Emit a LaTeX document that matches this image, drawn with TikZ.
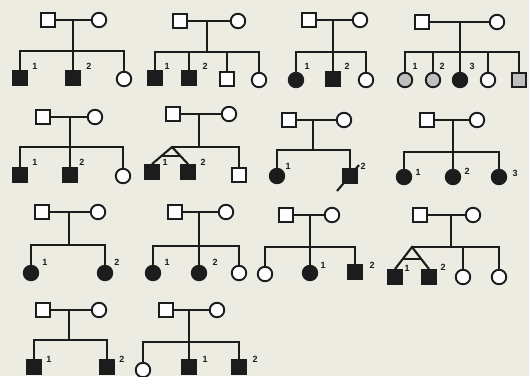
\documentclass[tikz,border=0pt]{standalone}
\usepackage{fontspec}
\setmainfont{Liberation Sans}
\usetikzlibrary{calc}
\definecolor{bgc}{RGB}{236,236,226}
\definecolor{ink}{RGB}{28,28,28}
\tikzset{
  lw/.style={line width=2.1pt, draw=ink},
  male/.style={draw=ink, line width=1.9pt, rectangle, minimum size=14pt, inner sep=0pt, fill=white!96!bgc},
  female/.style={draw=ink, line width=1.9pt, circle, minimum size=14.5pt, inner sep=0pt, fill=white!96!bgc},
  aff/.style={fill=ink},
  carr/.style={fill=gray!50},
  lab/.style={font=\bfseries\fontsize{9}{9}\selectfont, inner sep=0pt, text=ink}
}
\begin{document}
\begin{tikzpicture}[x=1pt,y=-1pt]
\useasboundingbox (0,0) rectangle (529,376);
\clip (0,0) rectangle (529,376);
\fill[bgc] (0,0) rectangle (529,376);

% ---------- Pedigree 1
\node[male] (f1) at (48,20) {};
\node[female] (m1) at (99,20) {};
\coordinate (j1) at (73,20); \coordinate (k1) at (73,51);
\node[male,aff] (c11) at (20,78) {};
\node[male,aff] (c12) at (73,78) {};
\node[female] (c13) at (124,79) {};
\draw[lw] (f1.east) -- (m1.west); \draw[lw] (j1) -- (k1);
\foreach \c in {c11,c12,c13} \draw[lw] (\c.north) |- (k1);
\node[lab] (l11) at (35,66) {1}; \node[lab] (l12) at (89,66) {2};

% ---------- Pedigree 2
\node[male] (f2) at (180,21) {};
\node[female] (m2) at (238,21) {};
\coordinate (j2) at (207,21); \coordinate (k2) at (207,52);
\node[male,aff] (c21) at (155,78) {};
\node[male,aff] (c22) at (189,78) {};
\node[male] (c23) at (227,79) {};
\node[female] (c24) at (259,80) {};
\draw[lw] (f2.east) -- (m2.west); \draw[lw] (j2) -- (k2);
\foreach \c in {c21,c22,c23,c24} \draw[lw] (\c.north) |- (k2);
\node[lab] (l21) at (167,66) {1}; \node[lab] (l22) at (205,66) {2};

% ---------- Pedigree 3
\node[male] (f3) at (309,20) {};
\node[female] (m3) at (360,20) {};
\coordinate (j3) at (333,20); \coordinate (k3) at (333,52);
\node[female,aff] (c31) at (296,80) {};
\node[male,aff] (c32) at (333,79) {};
\node[female] (c33) at (366,80) {};
\draw[lw] (f3.east) -- (m3.west); \draw[lw] (j3) -- (k3);
\foreach \c in {c31,c32,c33} \draw[lw] (\c.north) |- (k3);
\node[lab] (l31) at (307,66) {1}; \node[lab] (l32) at (347,66) {2};

% ---------- Pedigree 4
\node[male] (f4) at (422,22) {};
\node[female] (m4) at (497,22) {};
\coordinate (j4) at (460,22); \coordinate (k4) at (460,52);
\node[female,carr] (c41) at (405,80) {};
\node[female,carr] (c42) at (433,80) {};
\node[female,aff] (c43) at (460,80) {};
\node[female] (c44) at (488,80) {};
\node[male,carr] (c45) at (519,80) {};
\draw[lw] (f4.east) -- (m4.west); \draw[lw] (j4) -- (k4);
\foreach \c in {c41,c42,c43,c44,c45} \draw[lw] (\c.north) |- (k4);
\node[lab] (l41) at (415,66) {1}; \node[lab] (l42) at (442,66) {2}; \node[lab] (l43) at (472,66) {3};

% ---------- Pedigree 5
\node[male] (f5) at (43,117) {};
\node[female] (m5) at (95,117) {};
\coordinate (j5) at (70,117); \coordinate (k5) at (70,147);
\node[male,aff] (c51) at (20,175) {};
\node[male,aff] (c52) at (70,175) {};
\node[female] (c53) at (123,176) {};
\draw[lw] (f5.east) -- (m5.west); \draw[lw] (j5) -- (k5);
\foreach \c in {c51,c52,c53} \draw[lw] (\c.north) |- (k5);
\node[lab] (l51) at (35,162) {1}; \node[lab] (l52) at (82,162) {2};

% ---------- Pedigree 6 (twins)
\node[male] (f6) at (173,114) {};
\node[female] (m6) at (229,114) {};
\coordinate (j6) at (199,114); \coordinate (k6) at (199,147);
\coordinate (a6) at (172,147);
\node[male,aff] (c61) at (152,172) {};
\node[male,aff] (c62) at (188,172) {};
\node[male] (c63) at (239,175) {};
\draw[lw] (f6.east) -- (m6.west); \draw[lw] (j6) -- (k6);
\draw[lw] (a6) -- (k6); \draw[lw] (c63.north) |- (k6);
\draw[lw] (c61.north) -- (a6) -- (c62.north);
\draw[lw] ($(a6)!0.55!(c61.north)$) -- ($(a6)!0.55!(c62.north)$);
\node[lab] (l61) at (165,162) {1}; \node[lab] (l62) at (203,162) {2};

% ---------- Pedigree 7
\node[male] (f7) at (289,120) {};
\node[female] (m7) at (344,120) {};
\coordinate (j7) at (313,120); \coordinate (k7) at (313,150);
\node[female,aff] (c71) at (277,176) {};
\node[male,aff] (c72) at (350,176) {};
\draw[lw] (f7.east) -- (m7.west); \draw[lw] (j7) -- (k7);
\foreach \c in {c71,c72} \draw[lw] (\c.north) |- (k7);
\draw[lw] ($(c72.center)+(-13,15)$) -- ($(c72.center)+(9,-11)$);
\node[lab] (l71) at (288,166) {1}; \node[lab] (l72) at (363,166) {2};

% ---------- Pedigree 8
\node[male] (f8) at (427,120) {};
\node[female] (m8) at (477,120) {};
\coordinate (j8) at (453,120); \coordinate (k8) at (453,152);
\node[female,aff] (c81) at (404,177) {};
\node[female,aff] (c82) at (453,177) {};
\node[female,aff] (c83) at (499,177) {};
\draw[lw] (f8.east) -- (m8.west); \draw[lw] (j8) -- (k8);
\foreach \c in {c81,c82,c83} \draw[lw] (\c.north) |- (k8);
\node[lab] (l81) at (418,172) {1}; \node[lab] (l82) at (467,171) {2}; \node[lab] (l83) at (515,173) {3};

% ---------- Pedigree 9
\node[male] (f9) at (42,212) {};
\node[female] (m9) at (98,212) {};
\coordinate (j9) at (69,212); \coordinate (k9) at (69,245);
\node[female,aff] (c91) at (31,273) {};
\node[female,aff] (c92) at (105,273) {};
\draw[lw] (f9.east) -- (m9.west); \draw[lw] (j9) -- (k9);
\foreach \c in {c91,c92} \draw[lw] (\c.north) |- (k9);
\node[lab] (l91) at (45,262) {1}; \node[lab] (l92) at (117,262) {2};

% ---------- Pedigree 10
\node[male] (f10) at (175,212) {};
\node[female] (m10) at (226,212) {};
\coordinate (j10) at (199,212); \coordinate (k10) at (199,246);
\node[female,aff] (c101) at (153,273) {};
\node[female,aff] (c102) at (199,273) {};
\node[female] (c103) at (239,273) {};
\draw[lw] (f10.east) -- (m10.west); \draw[lw] (j10) -- (k10);
\foreach \c in {c101,c102,c103} \draw[lw] (\c.north) |- (k10);
\node[lab] (l101) at (167,262) {1}; \node[lab] (l102) at (215,262) {2};

% ---------- Pedigree 11
\node[male] (f11) at (286,215) {};
\node[female] (m11) at (332,215) {};
\coordinate (j11) at (310,215); \coordinate (k11) at (310,247);
\node[female] (c111) at (265,274) {};
\node[female,aff] (c112) at (310,273) {};
\node[male,aff] (c113) at (355,272) {};
\draw[lw] (f11.east) -- (m11.west); \draw[lw] (j11) -- (k11);
\foreach \c in {c111,c112,c113} \draw[lw] (\c.north) |- (k11);
\node[lab] (l111) at (323,265) {1}; \node[lab] (l112) at (372,265) {2};

% ---------- Pedigree 12 (twins)
\node[male] (f12) at (420,215) {};
\node[female] (m12) at (473,215) {};
\coordinate (j12) at (451,215); \coordinate (k12) at (451,247);
\coordinate (a12) at (412,247);
\node[male,aff] (c121) at (395,277) {};
\node[male,aff] (c122) at (429,277) {};
\node[female] (c123) at (463,277) {};
\node[female] (c124) at (499,277) {};
\draw[lw] (f12.east) -- (m12.west); \draw[lw] (j12) -- (k12);
\draw[lw] (a12) -- (k12);
\foreach \c in {c123,c124} \draw[lw] (\c.north) |- (k12);
\draw[lw] (c121.north) -- (a12) -- (c122.north);
\draw[lw] ($(a12)!0.55!(c121.north)$) -- ($(a12)!0.55!(c122.north)$);
\node[lab] (l121) at (407,268) {1}; \node[lab] (l122) at (443,267) {2};

% ---------- Pedigree 13
\node[male] (f13) at (43,310) {};
\node[female] (m13) at (99,310) {};
\coordinate (j13) at (69,310); \coordinate (k13) at (69,340);
\node[male,aff] (c131) at (34,367) {};
\node[male,aff] (c132) at (107,367) {};
\draw[lw] (f13.east) -- (m13.west); \draw[lw] (j13) -- (k13);
\foreach \c in {c131,c132} \draw[lw] (\c.north) |- (k13);
\node[lab] (l131) at (49,359) {1}; \node[lab] (l132) at (122,359) {2};

% ---------- Pedigree 14
\node[male] (f14) at (166,310) {};
\node[female] (m14) at (217,310) {};
\coordinate (j14) at (189,310); \coordinate (k14) at (189,342);
\node[female] (c141) at (143,370) {};
\node[male,aff] (c142) at (189,367) {};
\node[male,aff] (c143) at (239,367) {};
\draw[lw] (f14.east) -- (m14.west); \draw[lw] (j14) -- (k14);
\foreach \c in {c141,c142,c143} \draw[lw] (\c.north) |- (k14);
\node[lab] (l141) at (205,359) {1}; \node[lab] (l142) at (255,359) {2};
\end{tikzpicture}
\end{document}
